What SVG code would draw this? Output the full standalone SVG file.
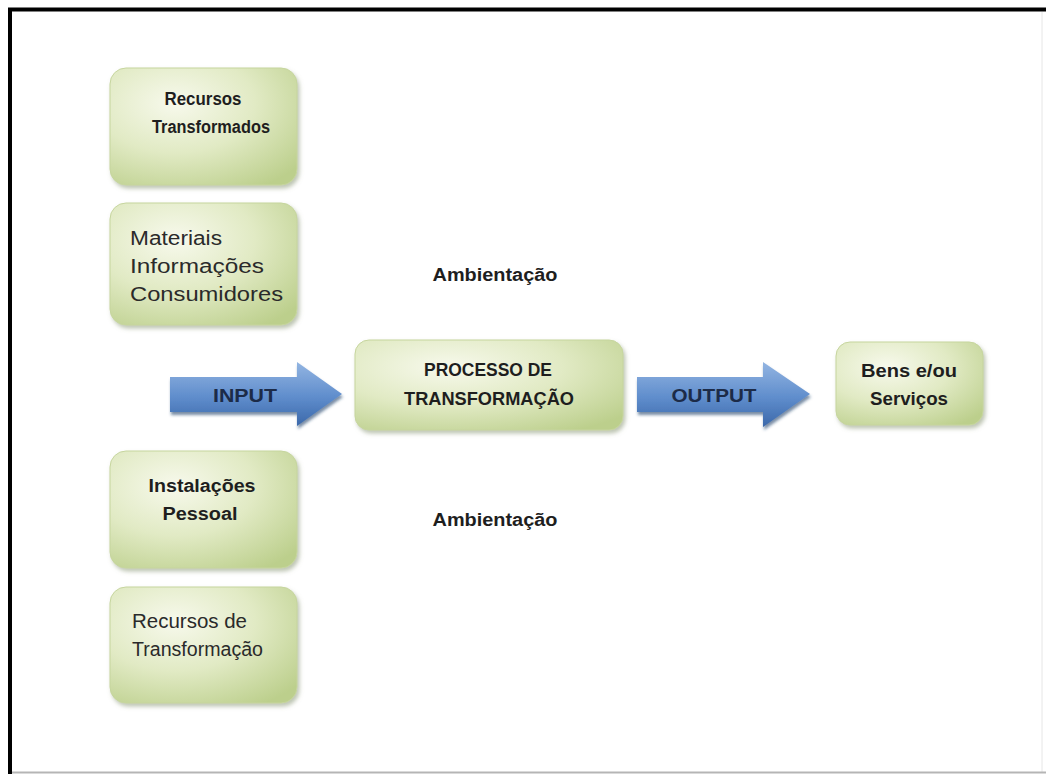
<svg xmlns="http://www.w3.org/2000/svg" width="1046" height="774" viewBox="0 0 1046 774">
<defs>
<radialGradient id="gBox" cx="0.35" cy="0.3" r="0.85">
<stop offset="0" stop-color="#f7f9ec"/>
<stop offset="0.5" stop-color="#e1eac4"/>
<stop offset="1" stop-color="#bccf8c"/>
</radialGradient>
<linearGradient id="gArrow" x1="0" y1="0" x2="0" y2="1">
<stop offset="0" stop-color="#93b5e2"/>
<stop offset="0.55" stop-color="#5f8dcc"/>
<stop offset="1" stop-color="#3b68aa"/>
</linearGradient>
<filter id="shadow" x="-10%" y="-10%" width="125%" height="130%">
<feDropShadow dx="2" dy="3" stdDeviation="2" flood-color="#7d8a66" flood-opacity="0.5"/>
</filter>
<filter id="ashadow" x="-10%" y="-20%" width="125%" height="150%">
<feDropShadow dx="1" dy="3" stdDeviation="1.5" flood-color="#22406a" flood-opacity="0.6"/>
</filter>
</defs>
<style>
.box{fill:url(#gBox);stroke:#c6d59e;stroke-width:1;filter:url(#shadow)}
.arrow{fill:url(#gArrow);filter:url(#ashadow)}
.t{font-family:"Liberation Sans",Arial,sans-serif;fill:#1e1e1e}
.b{font-weight:bold;font-size:18px}
.r{font-size:20px;fill:#2a2a2a}
.c{text-anchor:middle}
.at{font-family:"Liberation Sans",Arial,sans-serif;font-weight:bold;font-size:19px;fill:#1c2b48;text-anchor:middle}
</style>
<rect x="0" y="0" width="1046" height="774" fill="#ffffff"/>
<g id="frame">
<path d="M10,774 V9.5 H1046" fill="none" stroke="#000" stroke-width="4"/>
<line x1="1042" y1="12" x2="1042" y2="772" stroke="#e6e6e6" stroke-width="1"/>
<line x1="12" y1="772.5" x2="1046" y2="772.5" stroke="#b5b5b5" stroke-width="2"/>
</g>
<g id="connectors">
<g id="input-arrow">
<path class="arrow" d="M170,377 H297 V362 L342,394 L297,426 V412 H170 Z"/>
<text class="at" x="245" y="402" textLength="64" lengthAdjust="spacingAndGlyphs">INPUT</text>
</g>
<g id="output-arrow">
<path class="arrow" d="M637,377 H763 V362 L810,394 L763,427 V412 H637 Z"/>
<text class="at" x="714" y="402" textLength="85" lengthAdjust="spacingAndGlyphs">OUTPUT</text>
</g>
</g>
<g id="recursos-transformados">
<rect class="box" x="110" y="68" width="187" height="117" rx="16"/>
<text class="t b c" x="203" y="105" textLength="77" lengthAdjust="spacingAndGlyphs">Recursos</text>
<text class="t b c" x="211" y="133" textLength="118" lengthAdjust="spacingAndGlyphs">Transformados</text>
</g>
<g id="materiais">
<rect class="box" x="110" y="203" width="187" height="122" rx="16"/>
<text class="t r" x="130" y="245" textLength="92" lengthAdjust="spacingAndGlyphs">Materiais</text>
<text class="t r" x="130" y="273" textLength="134" lengthAdjust="spacingAndGlyphs">Informações</text>
<text class="t r" x="130" y="301" textLength="153" lengthAdjust="spacingAndGlyphs">Consumidores</text>
</g>
<g id="instalacoes">
<rect class="box" x="110" y="451" width="187" height="117" rx="16"/>
<text class="t b c" x="202" y="492" textLength="107" lengthAdjust="spacingAndGlyphs">Instalações</text>
<text class="t b c" x="200" y="520" textLength="75" lengthAdjust="spacingAndGlyphs">Pessoal</text>
</g>
<g id="recursos-de-transformacao">
<rect class="box" x="110" y="587" width="187" height="116" rx="16"/>
<text class="t r" x="132" y="628" textLength="115" lengthAdjust="spacingAndGlyphs">Recursos de</text>
<text class="t r" x="132" y="656" textLength="131" lengthAdjust="spacingAndGlyphs">Transformação</text>
</g>
<g id="ambientacao-top">
<text class="t b c" x="495" y="281" textLength="125" lengthAdjust="spacingAndGlyphs">Ambientação</text>
</g>
<g id="ambientacao-bottom">
<text class="t b c" x="495" y="526" textLength="125" lengthAdjust="spacingAndGlyphs">Ambientação</text>
</g>
<g id="processo">
<rect class="box" x="355" y="340" width="268" height="90" rx="14"/>
<text class="t b c" x="488" y="376" textLength="128" lengthAdjust="spacingAndGlyphs">PROCESSO DE</text>
<text class="t b c" x="489" y="405" textLength="170" lengthAdjust="spacingAndGlyphs">TRANSFORMAÇÃO</text>
</g>
<g id="bens">
<rect class="box" x="836" y="342" width="147" height="83" rx="14"/>
<text class="t b c" x="909" y="377" textLength="96" lengthAdjust="spacingAndGlyphs">Bens e/ou</text>
<text class="t b c" x="909" y="405" textLength="78" lengthAdjust="spacingAndGlyphs">Serviços</text>
</g>
</svg>
